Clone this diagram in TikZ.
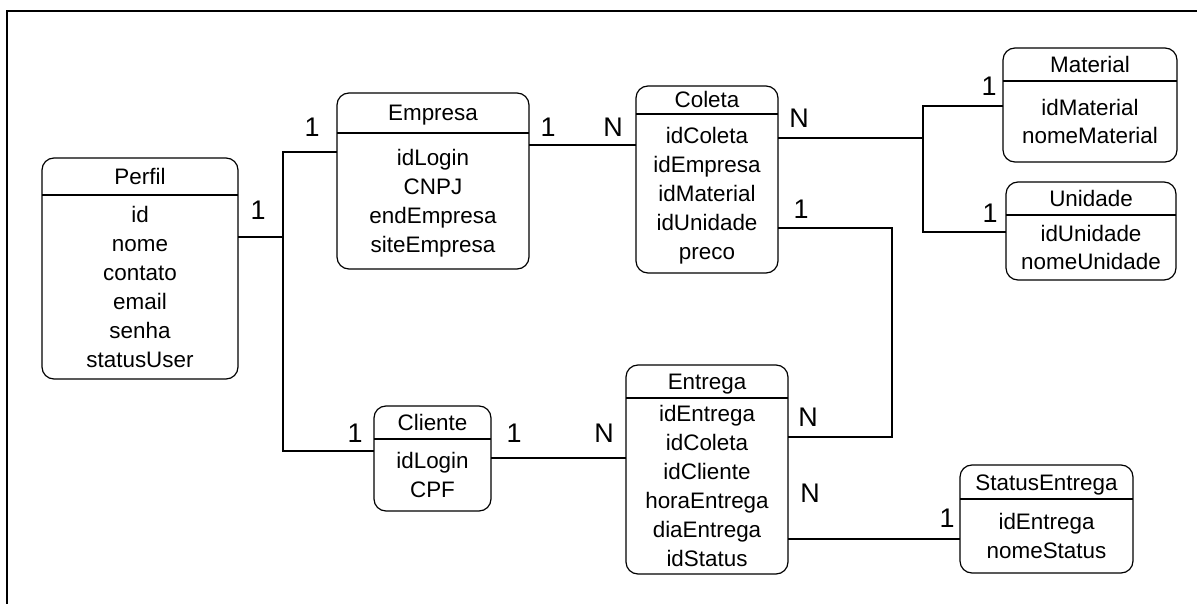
\documentclass[tikz,border=0pt]{standalone}
\usepackage{fontspec}
\setmainfont{Liberation Sans}
\usetikzlibrary{calc}

% strut: every text line is 28bp tall (22 above the baseline, 6 below)
\newcommand{\st}{\rule[-6bp]{0pt}{28bp}}

% \entity{name}{x1}{y1}{x2}{y2}{y of header rule}{title}{attribute lines}
\newcommand{\entity}[8]{%
  \node[entbox, minimum width={(#4-#2)*1bp}, minimum height={(#5-#3)*1bp}]
    (#1) at ({(#2+#4)/2},{(#3+#5)/2}) {};
  \draw[conn] (#1.west |- 0,#6) -- (#1.east |- 0,#6);
  \node[enttext] (#1-title) at ({(#2+#4)/2},{(#3+#6)/2}) {\st #7};
  \node[enttext] (#1-attrs) at ({(#2+#4)/2},{(#6+#5)/2}) {#8};
}

\begin{document}
\begin{tikzpicture}[x=1bp, y=-1bp,
  entbox/.style={draw=black, line width=1.2bp, rounded corners=12bp,
    inner sep=0pt, outer sep=0pt},
  enttext/.style={inner sep=0pt, align=center,
    font=\fontsize{22.5}{28}\selectfont},
  conn/.style={draw=black, line width=1.2bp},
  card/.style={inner sep=0pt, font=\fontsize{27}{32}\selectfont}]

\useasboundingbox (0,0) rectangle (1197,604);

% page frame (top and left edges)
\coordinate (frameTL) at (7,11);
\coordinate (frameTR) at (1197,11);
\coordinate (frameBL) at (7,604);
\draw[conn] (frameTR) -- (frameTL) -- (frameBL);

% entities
\entity{perfil}{42}{158}{238}{379}{195}{Perfil}
  {\st id\\\st nome\\\st contato\\\st email\\\st senha\\\st statusUser}
\entity{empresa}{337}{93}{529}{269}{133}{Empresa}
  {\st idLogin\\\st CNPJ\\\st endEmpresa\\\st siteEmpresa}
\entity{coleta}{636}{86}{778}{273}{114}{Coleta}
  {\st idColeta\\\st idEmpresa\\\st idMaterial\\\st idUnidade\\\st preco}
\entity{material}{1003}{48}{1177}{162}{81}{Material}
  {\st idMaterial\\\st nomeMaterial}
\entity{unidade}{1006}{182}{1176}{280}{215}{Unidade}
  {\st idUnidade\\\st nomeUnidade}
\entity{cliente}{374}{406}{491}{511}{439}{Cliente}
  {\st idLogin\\\st CPF}
\entity{entrega}{626}{365}{788}{574}{398}{Entrega}
  {\st idEntrega\\\st idColeta\\\st idCliente\\\st horaEntrega\\\st diaEntrega\\\st idStatus}
\entity{status}{960}{465}{1133}{573}{499}{StatusEntrega}
  {\st idEntrega\\\st nomeStatus}

% relationships
\coordinate (hubL) at (283,237);
\draw[conn] (perfil.east |- 0,237) -- (hubL);
\draw[conn] (empresa.west |- 0,152) -| (hubL) |- (cliente.west |- 0,451);

\draw[conn] (empresa.east |- 0,145) -- (coleta.west |- 0,145);

\coordinate (hubR) at (923,138);
\draw[conn] (coleta.east |- 0,138) -- (hubR);
\draw[conn] (material.west |- 0,106) -| (hubR) |- (unidade.west |- 0,232);

\draw[conn] (coleta.east |- 0,228) -- ++(114,0) |- (entrega.east |- 0,437);

\draw[conn] (cliente.east |- 0,458) -- (entrega.west |- 0,458);

\draw[conn] (entrega.east |- 0,539) -- (status.west |- 0,539);

% cardinalities
\node[card] (c-perfil)   at (258,210) {1};
\node[card] (c-empL)     at (312,127) {1};
\node[card] (c-empR)     at (548,127) {1};
\node[card] (c-colL)     at (613,127) {N};
\node[card] (c-colRN)    at (799,118) {N};
\node[card] (c-colR1)    at (801,209) {1};
\node[card] (c-mat)      at (989,86)  {1};
\node[card] (c-uni)      at (990,213) {1};
\node[card] (c-cliL)     at (355,433) {1};
\node[card] (c-cliR)     at (514,433) {1};
\node[card] (c-entL)     at (604,433) {N};
\node[card] (c-entRN1)   at (808,417) {N};
\node[card] (c-entRN2)   at (810,493) {N};
\node[card] (c-status)   at (947,518) {1};

\end{tikzpicture}
\end{document}
